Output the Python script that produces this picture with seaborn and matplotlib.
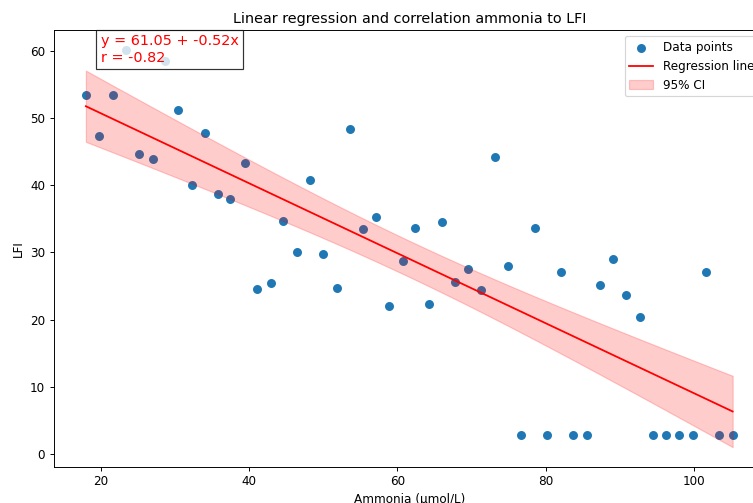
import numpy as np
import pandas as pd
import matplotlib
matplotlib.use("Agg")
import matplotlib.pyplot as plt
import seaborn as sns

ammonia = [18.0, 19.8, 21.6, 23.4, 25.2, 27.0, 28.7, 30.4, 32.3, 34.0,
           35.8, 37.5, 39.4, 41.1, 42.9, 44.6, 46.4, 48.2, 50.0, 51.8,
           53.6, 55.3, 57.1, 58.9, 60.7, 62.4, 64.2, 66.0, 67.8, 69.5,
           71.3, 73.2, 74.9, 76.7, 78.5, 80.2, 82.0, 83.7, 85.6, 87.3,
           89.1, 90.8, 92.7, 94.4, 96.2, 98.0, 99.8, 101.6, 103.3, 105.2]
lfi = [53.4, 47.3, 53.4, 60.1, 44.6, 43.9, 58.5, 51.1, 40.0, 47.8,
       38.7, 37.9, 43.3, 24.5, 25.5, 34.6, 30.1, 40.7, 29.7, 24.7,
       48.3, 33.5, 35.3, 22.0, 28.7, 33.6, 22.3, 34.5, 25.6, 27.5,
       24.4, 44.2, 27.9, 2.9, 33.6, 2.9, 27.1, 2.9, 2.9, 25.1,
       29.0, 23.6, 20.4, 2.9, 2.9, 2.9, 2.9, 27.0, 2.9, 2.9]

title = "Linear regression and correlation ammonia to LFI"
xlabel = "Ammonia (µmol/L)"
ylabel = "LFI"
annot = "y = 61.05 + -0.52x\nr = -0.82"

df = pd.DataFrame({"x": ammonia, "y": lfi})
x = df["x"].to_numpy()
y = df["y"].to_numpy()
n = len(x)
slope, intercept = np.polyfit(x, y, 1)
xs = np.sort(x)
yhat = intercept + slope * xs
resid = y - (intercept + slope * x)
s = np.sqrt(np.sum(resid ** 2) / (n - 2))
sxx = np.sum((x - x.mean()) ** 2)
tval = 2.0106  # t(0.975, df=48)
half = tval * s * np.sqrt(1.0 / n + (xs - x.mean()) ** 2 / sxx)

DPI = 86
W, H = 753, 503
fig = plt.figure(figsize=(W / DPI, H / DPI), dpi=DPI)
ax = fig.add_axes([53.5 / W, 1 - 467 / H, 711.5 / W, (467 - 30) / H])

sns.scatterplot(data=df, x="x", y="y", ax=ax, color="#1f77b4", s=36,
                edgecolor="#1f77b4", linewidth=1.5, label="Data points",
                zorder=2)
ax.plot(xs, yhat, color="red", lw=1.5, label="Regression line", zorder=3)
ax.fill_between(xs, yhat - half, yhat + half, color="red", alpha=0.2,
                label="95% CI", zorder=3)

ax.text(20, 62.4, annot, color="red", fontsize=12, va="top", ha="left",
        bbox=dict(facecolor="white", alpha=0.8, edgecolor="black"), zorder=5)

ax.set_title(title, fontsize=12)
ax.set_xlabel(xlabel)
ax.set_ylabel(ylabel)
ax.legend(loc="upper right")

fig.savefig("out.png", dpi=DPI)
